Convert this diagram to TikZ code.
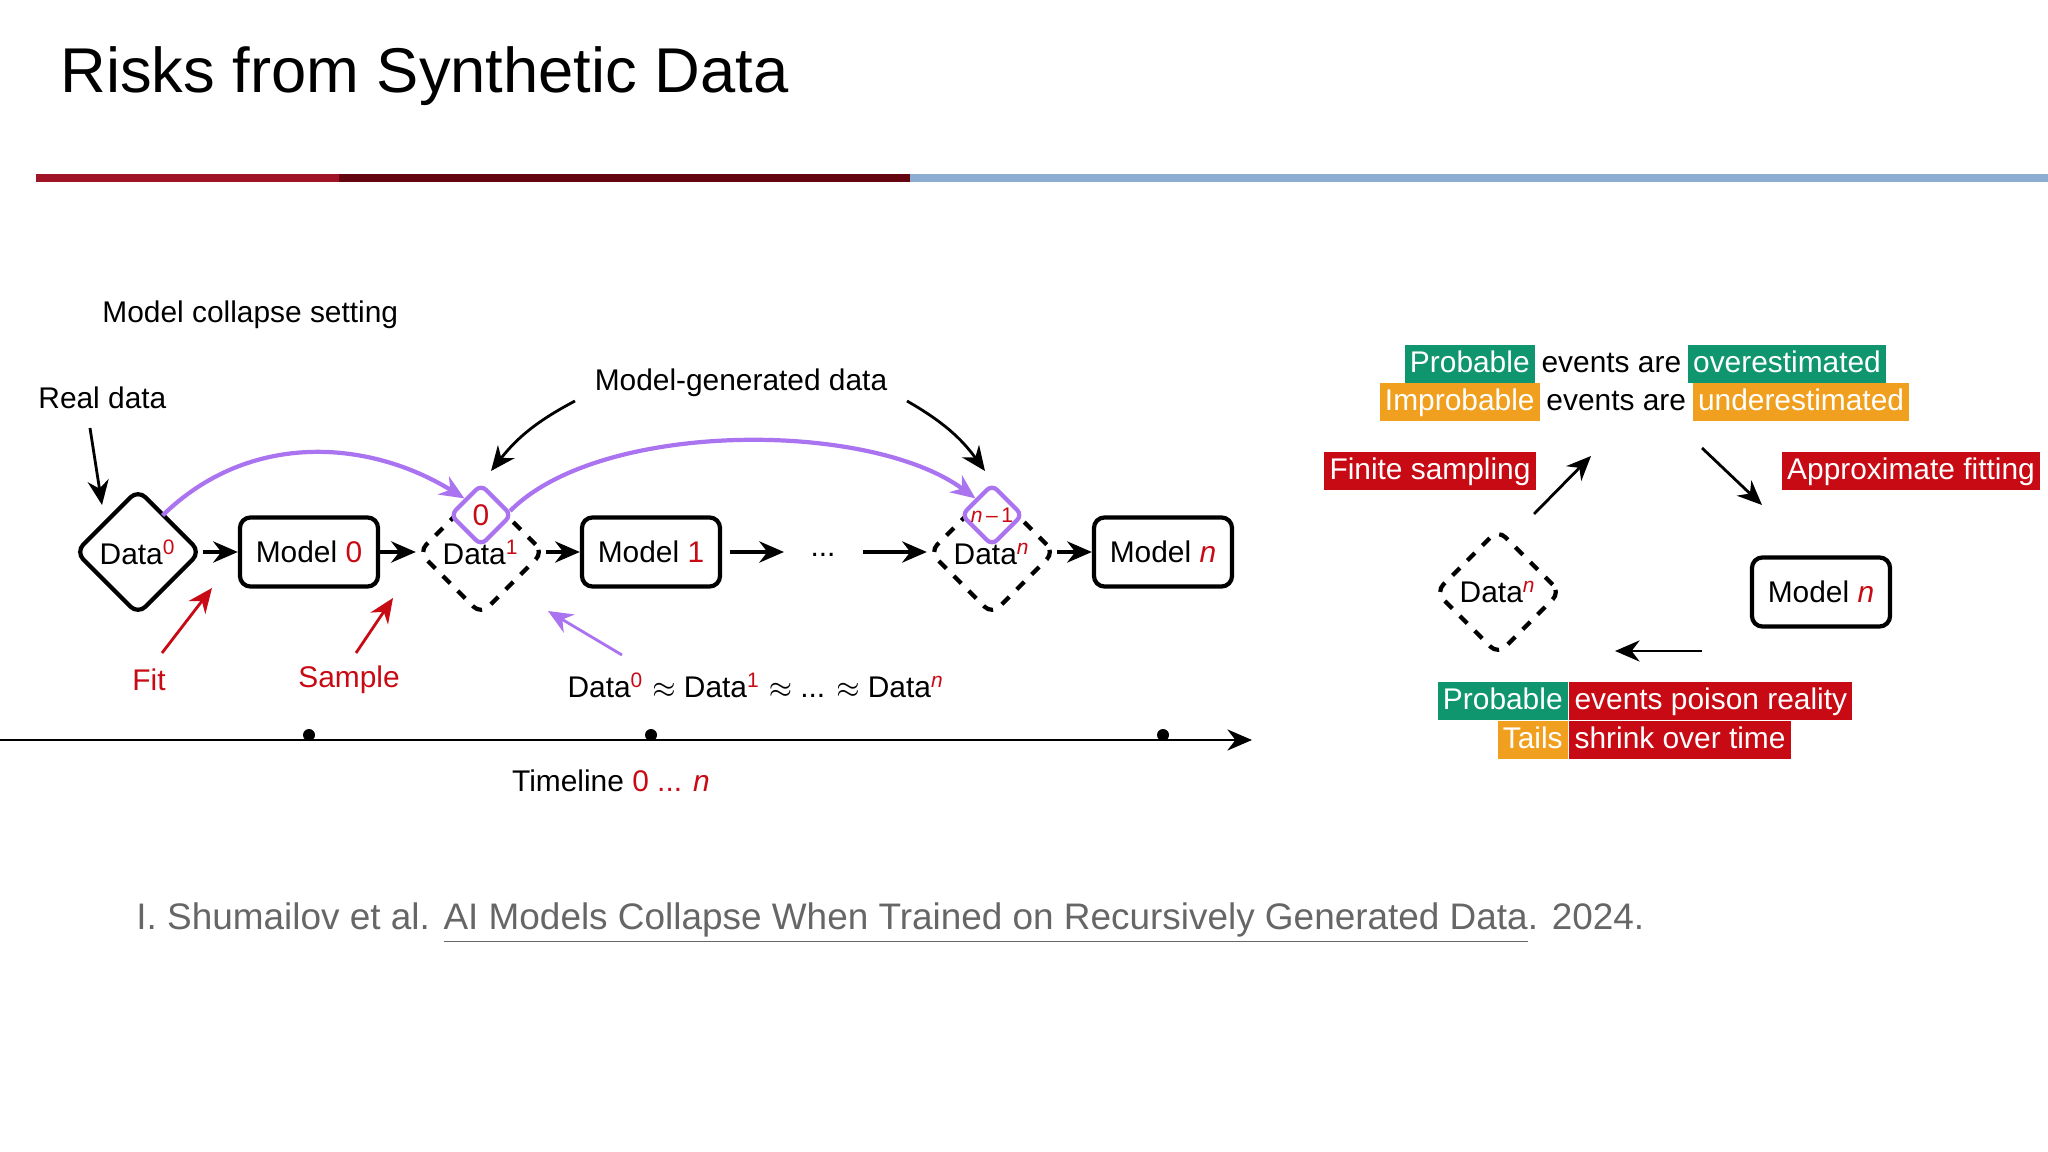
\documentclass[tikz,border=0pt]{standalone}
\usepackage{fontspec}
\setmainfont{Liberation Sans}
\usetikzlibrary{positioning,shapes.geometric,arrows.meta}
\definecolor{hlgreen}{RGB}{16,150,110}
\definecolor{hlorange}{RGB}{240,160,30}
\definecolor{hlred}{RGB}{200,10,20}
\definecolor{lilac}{RGB}{170,115,240}
\definecolor{barred}{RGB}{160,20,40}
\definecolor{bardark}{RGB}{100,5,15}
\definecolor{barblue}{RGB}{140,172,210}
\newcommand{\rsup}[1]{\textsuperscript{\textcolor{hlred}{#1}}}
\newcommand{\rn}{\textcolor{hlred}{\textit{n}}}
\begin{document}
\begin{tikzpicture}[x=0.01cm,y=-0.01cm,
    txt/.style={font=\fontsize{8.5}{10}\selectfont},
    model/.style={txt, rectangle, draw, very thick, rounded corners=3pt, minimum width=1.38cm, minimum height=0.69cm},
    data/.style={txt, diamond, draw, very thick, rounded corners=3pt, minimum width=1.26cm, minimum height=1.26cm, inner sep=0pt},
    synth/.style={data, dashed},
    prior/.style={diamond, draw=lilac, very thick, fill=white, rounded corners=2pt, minimum width=0.62cm, minimum height=0.62cm, inner sep=0pt, text=hlred},
    arr/.style={-{Stealth[length=7pt,width=6pt]}, very thick},
    thinarr/.style={-{Stealth[length=7pt,width=6pt]}, thick},
    hl/.style={txt, text=white, inner xsep=1.5pt, inner ysep=1pt, text height=7pt, text depth=2pt, anchor=west},
    pl/.style={hl, text=black}
]
\useasboundingbox (0,0) rectangle (2048,1152);

% Title and bar
\node[anchor=west, font=\fontsize{18}{22}\selectfont] (title) at (48,76) {Risks from Synthetic Data};
\fill[barred] (36,174) rectangle (339,182);
\fill[bardark] (339,174) rectangle (910,182);
\fill[barblue] (910,174) rectangle (2048,182);

% Left: chain
\node[txt, anchor=west] (setting) at (90,315) {Model collapse setting};
\node[txt, anchor=west] (real) at (26,398) {Real data};
\node[data] (d0) at (138,552) {Data\rsup{0}};
\node[model] (m0) at (309,552) {Model \textcolor{hlred}{0}};
\node[synth] (d1) at (481,552) {\raisebox{-7pt}{Data\rsup{1}}};
\node[prior, font=\fontsize{8.5}{9}\selectfont] (p1) at (481,515) {0};
\node[model] (m1) at (651,552) {Model \textcolor{hlred}{1}};
\node[txt] (dots) at (823,555) {...};
\node[synth] (dn) at (992,552) {\raisebox{-7pt}{Data\rsup{\textit{n}}}};
\node[prior, font=\fontsize{6}{7}\selectfont] (pn) at (992,515) {\textit{n}\,--\,1};
\node[model] (mn) at (1163,552) {Model \rn};

\draw[arr] (d0.east) -- (m0.west);
\draw[arr] (m0.east) -- (d1.west);
\draw[arr] (d1.east) -- (m1.west);
\coordinate (c1) at (784,552);
\coordinate (c2) at (863,552);
\draw[arr] (m1.east) ++(8,0) -- (c1);
\draw[arr] (c2) -- (dn.west);
\draw[arr] (dn.east) -- (mn.west);

% Purple carry-over
\draw[arr, lilac] (d0.north east) ++(-8,-4) .. controls (250,430) and (370,440) .. (p1.north west);
\draw[arr, lilac] (p1.east) ++(-4,-4) .. controls (600,420) and (870,420) .. (pn.north west);

% Annotations
\coordinate (realtip) at (102,505);
\draw[thinarr] (90,428) -- (realtip);
\node[txt] (gen) at (741,383) {Model-generated data};
\draw[thinarr] (575,401) to[bend right=12] (491,471);
\draw[thinarr] (907,401) to[bend left=12] (985,471);
\node[txt, text=hlred] (fit) at (149,680) {Fit};
\node[txt, text=hlred] (sample) at (349,680) {Sample};
\draw[thinarr, hlred] (162,653) -- (212,588);
\draw[thinarr, hlred] (356,653) -- (393,598);
\node[txt] (approx) at (756,685) {Data\rsup{0} $\approx$ Data\rsup{1} $\approx$ ... $\approx$ Data\rsup{\textit{n}}};
\draw[thinarr, lilac] (622,655) -- (548,611);

% Timeline
\coordinate (tl0) at (0,740);
\coordinate (tl1) at (1252,740);
\draw[arr, thick] (tl0) -- (tl1);
\foreach \x in {309,651,1163} \fill (\x,735) circle (6);
\node[txt] (timeline) at (611,781) {Timeline \textcolor{hlred}{0 ... \textit{n}}};

% Right: loop
\node[hl, fill=hlgreen] (pa) at (1404,364) {Probable};
\node[pl, right=0pt of pa] (pb) {events are};
\node[hl, fill=hlgreen, right=0pt of pb] (pc) {overestimated};
\node[hl, fill=hlorange] (ia) at (1379,402) {Improbable};
\node[pl, right=0pt of ia] (ib) {events are};
\node[hl, fill=hlorange, right=0pt of ib] (ic) {underestimated};
\node[hl, fill=hlred, anchor=center] (finite) at (1430,471) {Finite sampling};
\node[hl, fill=hlred, anchor=center] (fitting) at (1911,471) {Approximate fitting};
\node[synth] (dr) at (1498,592) {Data\rsup{\textit{n}}};
\node[model] (mr) at (1821,592) {Model \rn};
\coordinate (a1s) at (1534,514); \coordinate (a1e) at (1591,456);
\coordinate (a2s) at (1702,448); \coordinate (a2e) at (1762,505);
\coordinate (a3s) at (1702,651); \coordinate (a3e) at (1615,651);
\draw[thinarr] (a1s) -- (a1e);
\draw[thinarr] (a2s) -- (a2e);
\draw[thinarr] (a3s) -- (a3e);
\node[hl, fill=hlgreen] (ea) at (1437,701) {Probable};
\node[hl, fill=hlred, right=0pt of ea] (eb) {events poison reality};
\node[hl, fill=hlorange, anchor=east] (ta) at (eb.west |- 0,740) {Tails};
\node[hl, fill=hlred, right=0pt of ta] (tb) {shrink over time};

% Citation
\node[anchor=west, text=black!60, font=\fontsize{10.5}{13}\selectfont] (cite) at (124,923) {I. Shumailov et al. \underline{AI Models Collapse When Trained on Recursively Generated Data}. 2024.};
\end{tikzpicture}
\end{document}
